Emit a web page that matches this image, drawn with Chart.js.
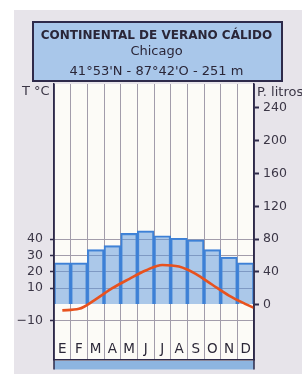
<!DOCTYPE html>
<html>
<head>
<meta charset="utf-8">
<script src="https://cdn.jsdelivr.net/npm/chart.js@4"></script>
<style>
  html, body { margin:0; padding:0; background:#ffffff; width:302px; height:374px; overflow:hidden; }
  #wrap { position:relative; width:302px; height:374px; }
  canvas { position:absolute; left:0; top:0; }
  .t { position:absolute; font-family:"DejaVu Sans", sans-serif; color:#2a2638; white-space:nowrap; line-height:1; }
  #box { position:absolute; left:32px; top:21px; width:251px; height:61px; box-sizing:border-box;
         border:2px solid #2e2a4a; background:#a9c7ea; }
</style>
</head>
<body>
<div id="wrap">
  <canvas id="c" width="302" height="374"></canvas>
  <div id="box"></div>
  <div class="t" style="left:32px;width:249px;text-align:center;top:29px;font-size:12px;font-weight:bold;">CONTINENTAL DE VERANO CÁLIDO</div>
  <div class="t" style="left:32px;width:249px;text-align:center;top:44px;font-size:13px;">Chicago</div>
  <div class="t" style="left:32px;width:249px;text-align:center;top:64px;font-size:13px;">41°53'N - 87°42'O - 251 m</div>
  <div class="t" style="left:22px;top:84px;font-size:13px;color:#3b3646;">T °C</div>
  <div class="t" style="left:257px;top:85px;font-size:13px;color:#3b3646;">P. litros</div>
</div>
<script>
// ---- data ----
const months = ["E","F","M","A","M","J","J","A","S","O","N","D"];
const precipitation = [51, 51, 67, 72, 87, 90, 84, 81, 79, 67, 58, 51];   // mm (P. litros)
const temperature = [-3.5, -2.6, 3.2, 10, 15.6, 20.8, 24.2, 23.2, 18.8, 12.1, 5.5, 0.3]; // °C
const temperatureEdge = -2;   // curve value at the right edge of December
const tempTickLabels = [40, 30, 20, 10, -10];
const precipTickLabels = [0, 40, 80, 120, 160, 200, 240];

const tempPoints = temperature.map((v, i) => ({x: i, y: v}));
tempPoints.push({x: months.length - 0.5, y: temperatureEdge});

const FONT = "DejaVu Sans";
const TMIN = -33.5, TMAX = 134.6;

const decor = {
  id: 'decor',
  beforeDraw(chart) {
    const {ctx, chartArea: a} = chart;
    ctx.save();
    ctx.fillStyle = '#e7e4ea';
    ctx.fillRect(14, 10, chart.width - 14, chart.height - 10);
    ctx.fillStyle = '#fcfbf7';
    ctx.fillRect(a.left, a.top, a.right - a.left, a.bottom - a.top);
    ctx.restore();
  },
  afterDraw(chart) {
    const {ctx, chartArea: a} = chart;
    ctx.save();
    ctx.fillStyle = '#8db5e0';
    ctx.fillRect(a.left, a.bottom + 1.5, a.right - a.left, 8.5);
    ctx.strokeStyle = '#2e2a4a';
    ctx.lineWidth = 1.5;
    ctx.beginPath();
    ctx.moveTo(a.left, a.top); ctx.lineTo(a.left, a.bottom + 10);
    ctx.moveTo(a.right, a.top); ctx.lineTo(a.right, a.bottom + 10);
    ctx.stroke();
    ctx.restore();
  }
};

new Chart(document.getElementById('c'), {
  type: 'bar',
  data: {
    labels: months,
    datasets: [
      {
        type: 'line', data: tempPoints, xAxisID: 'xL', yAxisID: 'yT',
        borderColor: '#e8521e', borderWidth: 2.6, pointRadius: 0, tension: 0.4,
        cubicInterpolationMode: 'monotone', order: 0
      },
      {
        type: 'bar', data: precipitation, xAxisID: 'x', yAxisID: 'yP', grouped: false,
        backgroundColor: 'rgba(90,150,220,0.5)', borderColor: '#3d80d6', borderWidth: 1.5,
        borderSkipped: 'bottom', categoryPercentage: 1, barPercentage: 1, order: 1
      }
    ]
  },
  options: {
    responsive: false, animation: false, devicePixelRatio: 1,
    layout: { padding: { top: 84, left: 0, right: 0, bottom: 0 } },
    plugins: { legend: { display: false }, tooltip: { enabled: false }, title: { display: false } },
    scales: {
      x: {
        type: 'category', position: 'bottom', offset: true,
        afterFit: s => { s.height = 14; },
        grid: { offset: true, color: '#a29cab', lineWidth: 1, drawTicks: false },
        border: { display: true, color: '#2e2a4a', width: 1.5 },
        ticks: { mirror: true, padding: 2, color: '#2c2838', font: { family: FONT, size: 13.5 }, maxRotation: 0, autoSkip: false }
      },
      xL: { type: 'linear', display: false, offset: false, grid: { offset: false }, min: -0.5, max: months.length - 0.5 },
      yT: {
        type: 'linear', position: 'left', min: TMIN, max: TMAX,
        afterFit: s => { s.width = 54; },
        border: { display: true, color: '#2e2a4a', width: 1.5 },
        grid: {
          color: c => { const v = c.tick.value; return (v >= -20 && v <= 130 && Math.abs(v % 10) < 1e-6) ? (v === 0 ? '#2a2540' : '#a29cab') : 'rgba(0,0,0,0)'; },
          lineWidth: c => c.tick.value === 0 ? 2.2 : 1,
          tickColor: c => { const v = c.tick.value; return (v >= -20 && v <= 40 && Math.abs(v % 10) < 1e-6) ? '#2e2a4a' : 'rgba(0,0,0,0)'; },
          tickLength: 4, tickWidth: 1.5
        },
        ticks: {
          stepSize: 10, padding: 7, color: '#3b3646', font: { family: FONT, size: 12.5 }, autoSkip: false,
          callback: v => tempTickLabels.includes(v) ? (v < 0 ? '\u2212' + Math.abs(v) : String(v)) : null
        }
      },
      yP: {
        type: 'linear', position: 'right', min: TMIN * 2, max: TMAX * 2,
        afterFit: s => { s.width = 48; },
        border: { display: true, color: '#2e2a4a', width: 1.5 },
        grid: {
          drawOnChartArea: false, tickLength: 5, tickWidth: 2,
          tickColor: c => precipTickLabels.includes(c.tick.value) ? '#2e2a4a' : 'rgba(0,0,0,0)'
        },
        ticks: {
          stepSize: 40, padding: 4, color: '#3b3646', font: { family: FONT, size: 12.5 }, autoSkip: false,
          callback: v => precipTickLabels.includes(v) ? String(v) : null
        }
      }
    }
  },
  plugins: [decor]
});
</script>
</body>
</html>
